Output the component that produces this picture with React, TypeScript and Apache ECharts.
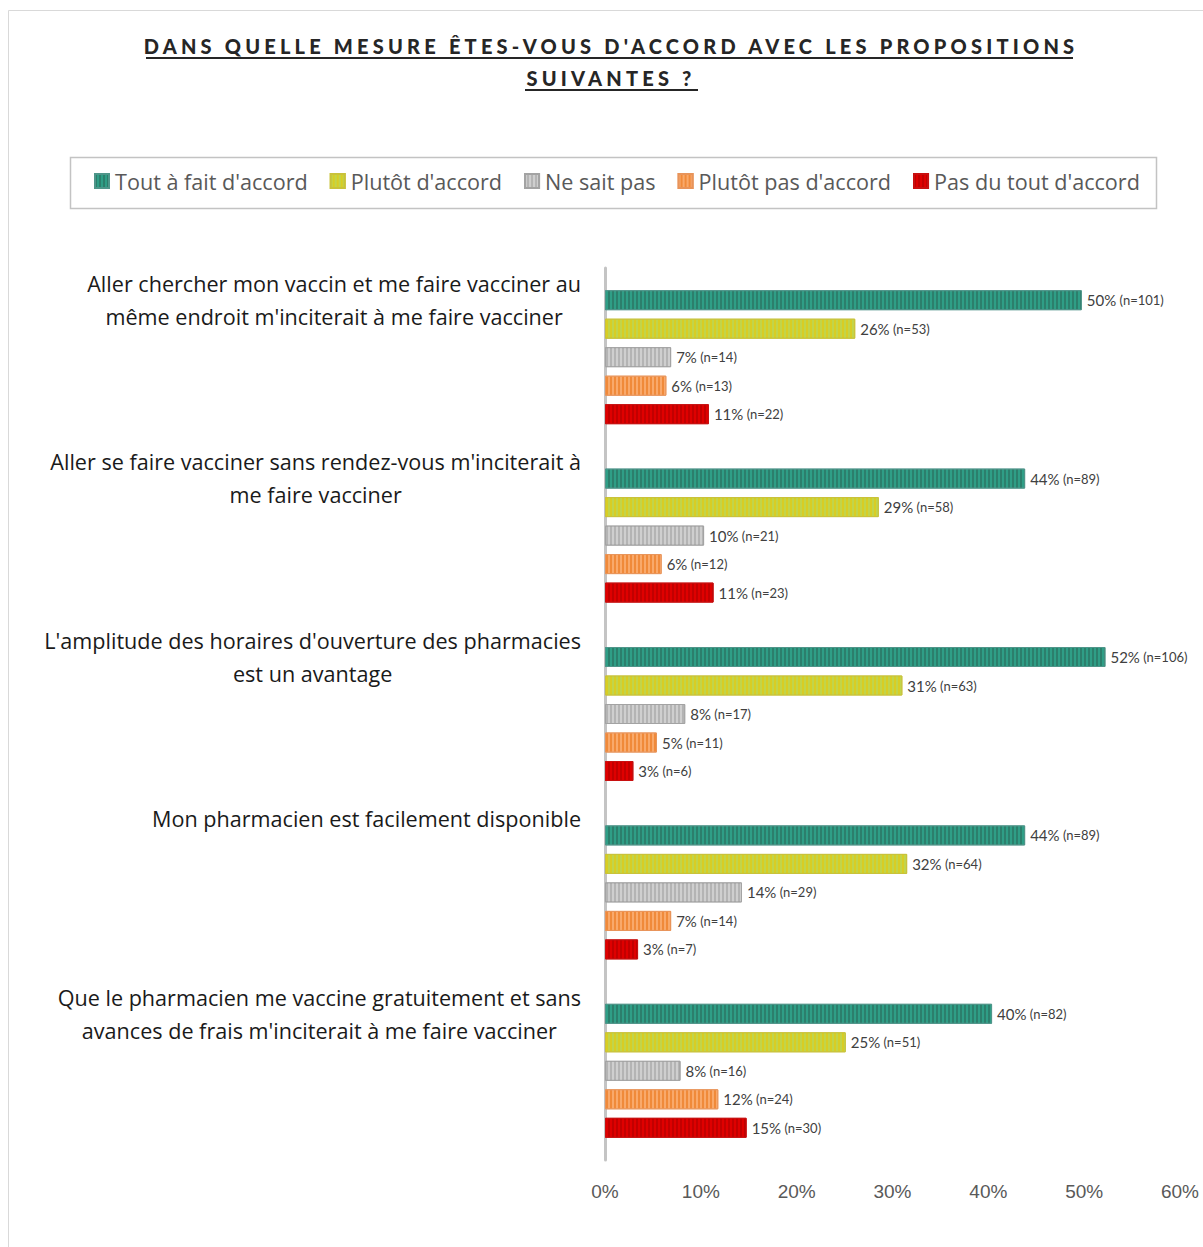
import React, { useEffect, useRef } from "react";
import * as echarts from "echarts";

const statements = [
  "Aller chercher mon vaccin et me faire vacciner au\nmême endroit m'inciterait à me faire vacciner",
  "Aller se faire vacciner sans rendez-vous m'inciterait à\nme faire vacciner",
  "L'amplitude des horaires d'ouverture des pharmacies\nest un avantage",
  "Mon pharmacien est facilement disponible",
  "Que le pharmacien me vaccine gratuitement et sans\navances de frais m'inciterait à me faire vacciner",
];

const seriesNames = [
  "Tout à fait d'accord",
  "Plutôt d'accord",
  "Ne sait pas",
  "Plutôt pas d'accord",
  "Pas du tout d'accord",
];

// percentages (share of 203 respondents)
const toutAFait = [49.75, 43.84, 52.22, 43.84, 40.39];
const plutot = [26.11, 28.57, 31.03, 31.53, 25.12];
const neSaitPas = [6.9, 10.34, 8.37, 14.29, 7.88];
const plutotPas = [6.4, 5.91, 5.42, 6.9, 11.82];
const pasDuTout = [10.84, 11.33, 2.96, 3.45, 14.78];

// respondent counts
const nToutAFait = [101, 89, 106, 89, 82];
const nPlutot = [53, 58, 63, 64, 51];
const nNeSaitPas = [14, 21, 17, 29, 16];
const nPlutotPas = [13, 12, 11, 14, 24];
const nPasDuTout = [22, 23, 6, 7, 30];

const xMin = 0;
const xMax = 60;
const xInterval = 10;

const titleText = "DANS QUELLE MESURE ÊTES-VOUS D'ACCORD AVEC LES PROPOSITIONS\nSUIVANTES ?";

const styles = [
  { fill: "#2f9e86", decal: "rgba(40,80,70,0.4)", border: "#4f968a" },
  { fill: "#d8cd24", decal: "rgba(185,215,90,0.7)", border: "#c9c23a" },
  { fill: "#b4b4b4", decal: "rgba(225,225,225,0.6)", border: "#a3a3a3" },
  { fill: "#f08a3a", decal: "rgba(255,190,140,0.6)", border: "#e8945a" },
  { fill: "#df0000", decal: "rgba(150,0,0,0.4)", border: "#c81010" },
];

const CHART_W = 1203;
const CHART_H = 1247;
const GRID_TOP = 268;
const GRID_BOTTOM_Y = 1160;
const LINE_H = 33;

export default function App() {
  const ref = useRef<HTMLDivElement>(null);

  useEffect(() => {
    if (!ref.current) return;
    const chart = echarts.init(ref.current, undefined, { renderer: "svg" });
    const bandH = (GRID_BOTTOM_Y - GRID_TOP) / statements.length;

    const values = [toutAFait, plutot, neSaitPas, plutotPas, pasDuTout];
    const counts = [nToutAFait, nPlutot, nNeSaitPas, nPlutotPas, nPasDuTout];

    const series = seriesNames.map((name, i) => ({
      name,
      type: "bar",
      barWidth: 20,
      barGap: "42.5%",
      data: values[i].map((v, j) => ({ value: v, n: counts[i][j] })),
      itemStyle: {
        color: styles[i].fill,
        borderColor: styles[i].border,
        borderWidth: 1,
        decal: {
          symbol: "rect",
          symbolSize: 1,
          dashArrayX: [2, 2],
          dashArrayY: [4, 0],
          color: styles[i].decal,
        },
      },
      label: {
        show: true,
        position: "right",
        distance: 5,
        formatter: (p: any) => `{a|${Math.round(p.value)}%} {b|(n=${p.data.n})}`,
        rich: {
          a: { fontFamily: "Lato", fontSize: 15, color: "#404040" },
          b: { fontFamily: "Lato", fontSize: 13, color: "#404040" },
        },
      },
    }));

    chart.setOption({
      animation: false,
      title: {
        text: titleText,
        left: 611,
        top: 30,
        padding: 0,
        textAlign: "center",
        textStyle: {
          fontFamily: "Lato, TitleSpaced",
          fontWeight: 900,
          fontSize: 20,
          lineHeight: 32,
          color: "#262626",
        },
      },
      legend: {
        data: seriesNames,
        left: 94,
        top: 170,
        padding: 0,
        itemWidth: 14,
        itemHeight: 14,
        itemGap: 22,
        icon: "rect",
        textStyle: { fontFamily: "Open Sans", fontSize: 21.6, color: "#595959", padding: [0, 0, 0, 1] },
      },
      graphic: [
        {
          type: "rect",
          z: -10,
          shape: { x: 8.5, y: 10.5, width: 1400, height: 1400 },
          style: { fill: "none", stroke: "#d9d9d9", lineWidth: 1 },
        },
        {
          type: "rect",
          z: -10,
          shape: { x: 70.5, y: 157.5, width: 1086, height: 51 },
          style: { fill: "none", stroke: "#c3c3c3", lineWidth: 1.5 },
        },
        {
          type: "line",
          shape: { x1: 146, y1: 58, x2: 1073, y2: 58 },
          style: { stroke: "#262626", lineWidth: 2 },
        },
        {
          type: "line",
          shape: { x1: 525, y1: 90, x2: 698, y2: 90 },
          style: { stroke: "#262626", lineWidth: 2 },
        },
      ],
      grid: { left: 605, right: CHART_W - 1180, top: GRID_TOP, bottom: CHART_H - GRID_BOTTOM_Y },
      xAxis: {
        type: "value",
        min: xMin,
        max: xMax,
        interval: xInterval,
        axisLine: { show: false },
        axisTick: { show: false },
        splitLine: { show: false },
        axisLabel: {
          formatter: "{value}%",
          fontFamily: "Liberation Sans",
          fontSize: 19,
          color: "#595959",
          margin: 22,
        },
      },
      yAxis: {
        type: "category",
        inverse: true,
        data: statements,
        axisLine: { show: true, lineStyle: { color: "#c4c4c4", width: 3 } },
        axisTick: { show: false },
        axisLabel: {
          margin: 24,
          formatter: (v: string) => {
            const lines = v.split("\n");
            const sp = lines.length === 1 ? "s1" : "s";
            return lines.map((l) => `{c|${l}}`).join("\n") + `\n{${sp}| }`;
          },
          rich: {
            c: {
              align: "center",
              fontFamily: "Open Sans",
              fontSize: 21.6,
              lineHeight: LINE_H,
              color: "#1a1a1a",
            },
            s: { fontSize: 1, lineHeight: bandH - LINE_H * 2 + 2 },
            s1: { fontSize: 1, lineHeight: bandH - LINE_H + 2 },
          },
        },
      },
      series,
    });

    return () => chart.dispose();
  }, []);

  return (
    <>
      <style>{`body{margin:0;overflow:hidden} text[style*="TitleSpaced"]{letter-spacing:4.2px}`}</style>
      <div ref={ref} style={{ width: CHART_W, height: CHART_H }} />
    </>
  );
}
